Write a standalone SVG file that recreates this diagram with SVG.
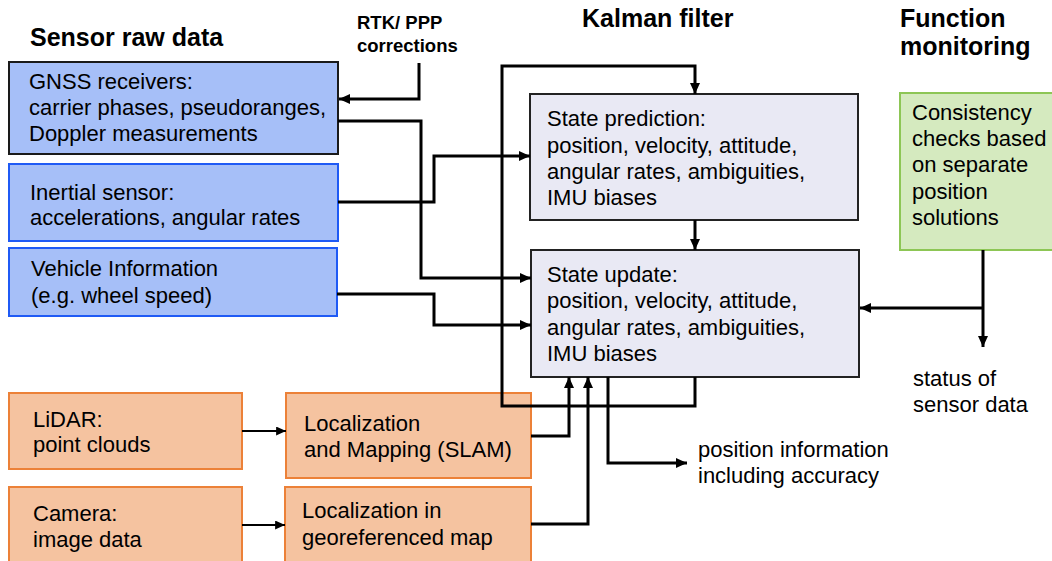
<svg xmlns="http://www.w3.org/2000/svg" width="1052" height="561" viewBox="0 0 1052 561">
<defs>
<style>
text{font-family:"Liberation Sans",Arial,sans-serif;fill:#000}
.t{font-size:22px}
.h{font-size:25px;font-weight:bold}
.hs{font-size:18.5px;font-weight:bold}
.blue{fill:#a6bff8;stroke:#1f5af5;stroke-width:2}
.blueK{fill:#a6bff8;stroke:#1a1a1a;stroke-width:2}
.kal{fill:#e9e9f4;stroke:#222;stroke-width:2}
.org{fill:#f5c3a0;stroke:#ec8138;stroke-width:2}
.grn{fill:#d5eabf;stroke:#8dc655;stroke-width:2}
.c{fill:none;stroke:#000;stroke-width:3;stroke-linejoin:miter}
.c2{fill:none;stroke:#000;stroke-width:2}
</style>
<marker id="a" viewBox="0 0 11 10" refX="11" refY="5" markerWidth="11" markerHeight="10" markerUnits="userSpaceOnUse" orient="auto"><path d="M0,0L11,5L0,10Z" fill="#000"/></marker>
<marker id="b" viewBox="0 0 11 10" refX="11" refY="5" markerWidth="10" markerHeight="9" markerUnits="userSpaceOnUse" orient="auto"><path d="M0,0L11,5L0,10Z" fill="#000"/></marker>
</defs>
<rect width="1052" height="561" fill="#fff"/>

<g id="headings">
<text class="h" x="30" y="46">Sensor raw data</text>
<text class="hs" x="357" y="29">RTK/ PPP</text>
<text class="hs" x="357" y="52">corrections</text>
<text class="h" x="582" y="27">Kalman filter</text>
<text class="h" x="900" y="27">Function</text>
<text class="h" x="900" y="55">monitoring</text>
</g>

<g id="gnss">
<rect class="blueK" x="9" y="62" width="329" height="92"/>
<text class="t" x="29" y="89">GNSS receivers:</text>
<text class="t" x="29" y="115">carrier phases, pseudoranges,</text>
<text class="t" x="29" y="141">Doppler measurements</text>
</g>
<g id="inertial">
<rect class="blue" x="9" y="164" width="329" height="77"/>
<text class="t" x="30" y="200">Inertial sensor:</text>
<text class="t" x="30" y="225">accelerations, angular rates</text>
</g>
<g id="vehicle">
<rect class="blue" x="9" y="248" width="328" height="68"/>
<text class="t" x="31" y="276">Vehicle Information</text>
<text class="t" x="31" y="303">(e.g. wheel speed)</text>
</g>

<g id="prediction">
<rect class="kal" x="530" y="94" width="328" height="126"/>
<text class="t" x="547" y="126">State prediction:</text>
<text class="t" x="547" y="153">position, velocity, attitude,</text>
<text class="t" x="547" y="179">angular rates, ambiguities,</text>
<text class="t" x="547" y="205">IMU biases</text>
</g>
<g id="update">
<rect class="kal" x="531" y="250" width="328" height="127"/>
<text class="t" x="547" y="282">State update:</text>
<text class="t" x="547" y="308">position, velocity, attitude,</text>
<text class="t" x="547" y="335">angular rates, ambiguities,</text>
<text class="t" x="547" y="361">IMU biases</text>
</g>

<g id="consistency">
<rect class="grn" x="900" y="93" width="162" height="157"/>
<text class="t" x="912" y="120">Consistency</text>
<text class="t" x="912" y="146">checks based</text>
<text class="t" x="912" y="172">on separate</text>
<text class="t" x="912" y="199">position</text>
<text class="t" x="912" y="225">solutions</text>
</g>

<g id="lidar">
<rect class="org" x="9" y="393" width="233" height="76"/>
<text class="t" x="33" y="427">LiDAR:</text>
<text class="t" x="33" y="452">point clouds</text>
</g>
<g id="slam">
<rect class="org" x="286" y="393" width="245" height="85"/>
<text class="t" x="304" y="431">Localization</text>
<text class="t" x="304" y="457">and Mapping (SLAM)</text>
</g>
<g id="camera">
<rect class="org" x="9" y="487" width="233" height="80"/>
<text class="t" x="33" y="521">Camera:</text>
<text class="t" x="33" y="547">image data</text>
</g>
<g id="georef">
<rect class="org" x="285" y="487" width="246" height="80"/>
<text class="t" x="302" y="518">Localization in</text>
<text class="t" x="302" y="545">georeferenced map</text>
</g>

<g id="labels">
<text class="t" x="913" y="386">status of</text>
<text class="t" x="913" y="412">sensor data</text>
<text class="t" x="698" y="457">position information</text>
<text class="t" x="698" y="483">including accuracy</text>
</g>

<g id="connectors">
<path class="c" d="M419,63V99H339" marker-end="url(#a)"/>
<path class="c" d="M338,121H421V278H531" marker-end="url(#a)"/>
<path class="c" d="M338,202H434V156H530" marker-end="url(#a)"/>
<path class="c" d="M337,294H434V325H531" marker-end="url(#a)"/>
<path class="c" d="M695,377V406H502V66H695V94" marker-end="url(#a)"/>
<path class="c" d="M695,220V250" marker-end="url(#a)"/>
<path class="c" d="M531,436H569V377" marker-end="url(#a)"/>
<path class="c" d="M531,524H588V377" marker-end="url(#a)"/>
<path class="c" d="M608,377V463H687" marker-end="url(#a)"/>
<path class="c" d="M983,250V347" marker-end="url(#a)"/>
<path class="c" d="M983,308H860" marker-end="url(#a)"/>
<path class="c2" d="M242,431H286" marker-end="url(#b)"/>
<path class="c2" d="M242,525H285" marker-end="url(#b)"/>
</g>
</svg>
